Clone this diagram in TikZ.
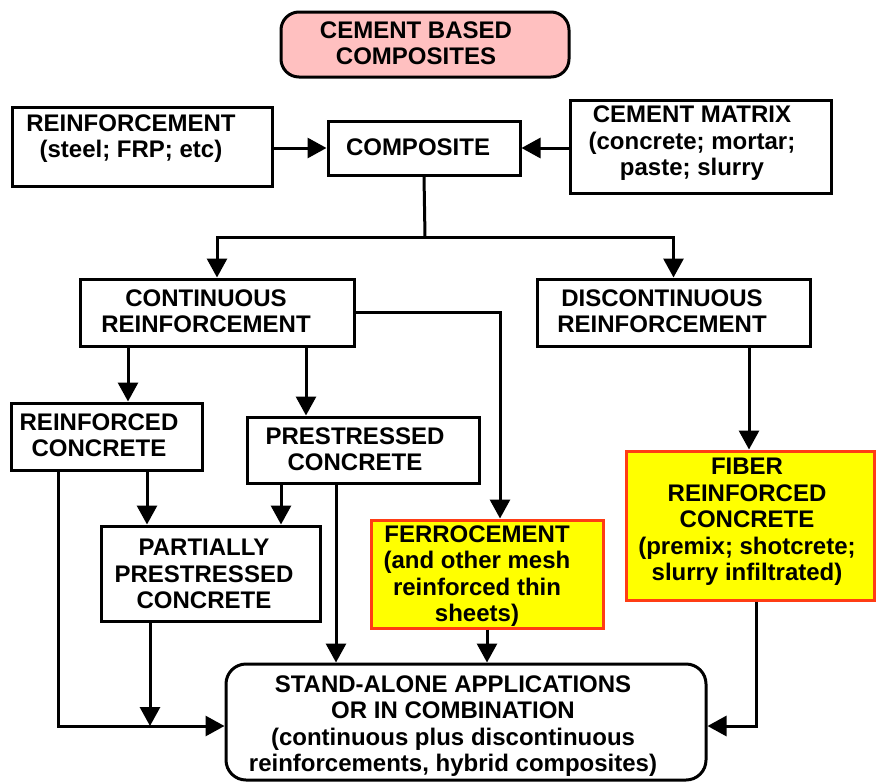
\documentclass[tikz,border=0pt]{standalone}
\usepackage{fontspec}
\setmainfont{Liberation Sans}
\usetikzlibrary{arrows.meta}
\definecolor{titlepink}{RGB}{255,192,192}
\definecolor{hlyellow}{RGB}{255,255,0}
\definecolor{hlred}{RGB}{255,60,20}
\tikzset{
  boxnode/.style={draw=black, line width=3pt, inner sep=0pt, minimum width=#1},
  lbl/.style={font=\bfseries\fontsize{24}{26.4}\selectfont, align=center, inner sep=0pt},
  conn/.style={line width=3pt},
  arr/.style={line width=3pt, -{Triangle[length=19pt,width=20pt]}},
  hlbox/.style={draw=hlred, fill=hlyellow, line width=3pt, inner sep=0pt},
}
\begin{document}
\begin{tikzpicture}[x=1pt,y=-1pt]
\useasboundingbox (0,0) rectangle (877,782);
% boxes
\node[draw=black, fill=titlepink, line width=3pt, rounded corners=18pt, minimum width=288pt, minimum height=65pt, inner sep=0pt] (title) at (425,44.5) {};
\node[boxnode=260pt, minimum height=79pt] (reinf) at (142,146.5) {};
\node[boxnode=192pt, minimum height=54pt] (comp) at (424,148) {};
\node[boxnode=261pt, minimum height=93pt] (matrix) at (701,146.5) {};
\node[boxnode=274pt, minimum height=67pt] (cont) at (217,312.5) {};
\node[boxnode=273pt, minimum height=67pt] (disc) at (673.5,312.5) {};
\node[boxnode=191pt, minimum height=67pt] (rc) at (106.5,436.5) {};
\node[boxnode=232pt, minimum height=66pt] (ps) at (363,450) {};
\node[boxnode=219pt, minimum height=95pt] (pp) at (210.5,573.5) {};
\node[hlbox, minimum width=232pt, minimum height=108pt] (ferro) at (487,574) {};
\node[hlbox, minimum width=248pt, minimum height=149pt] (fiber) at (750,525.5) {};
\node[draw=black, line width=3pt, rounded corners=20pt, minimum width=480pt, minimum height=116pt, inner sep=0pt] (sa) at (466,722) {};
% texts
\node[lbl] (ttitle) at (416,43.5) {CEMENT BASED\\COMPOSITES};
\node[lbl] (treinf) at (131,138.5) {REINFORCEMENT\\(steel; FRP; etc)};
\node[lbl] (tcomp) at (418,147) {COMPOSITE};
\node[lbl] (tmatrix) at (692,143.5) {CEMENT MATRIX\\(concrete; mortar;\\paste; slurry};
\node[lbl] (tcont) at (206,311) {CONTINUOUS\\REINFORCEMENT};
\node[lbl] (tdisc) at (662,311) {DISCONTINUOUS\\REINFORCEMENT};
\node[lbl] (trc) at (99,435) {REINFORCED\\CONCRETE};
\node[lbl] (tps) at (355,449) {PRESTRESSED\\CONCRETE};
\node[lbl] (tpp) at (204,574) {PARTIALLY\\PRESTRESSED\\CONCRETE};
\node[lbl] (tferro) at (477,576) {FERROCEMENT\\(and other mesh\\reinforced thin\\sheets)};
\node[lbl] (tfiber) at (747,522) {FIBER\\REINFORCED\\CONCRETE\\(premix; shotcrete;\\slurry infiltrated)};
\node[lbl] (tsa) at (453,726) {STAND-ALONE APPLICATIONS\\OR IN COMBINATION\\(continuous plus discontinuous\\reinforcements, hybrid composites)};
% helper coordinates
\coordinate (split) at (425,237);
\coordinate (xa) at (128,0);
\coordinate (xb) at (306,0);
\coordinate (xc) at (500,0);
\coordinate (xd) at (749,0);
\coordinate (j1) at (58,726);
\coordinate (xe) at (147,0);
\coordinate (xf) at (281,0);
\coordinate (xg) at (336,0);
\coordinate (j2) at (150,726);
\coordinate (j3) at (756,726);
% connectors
\draw[arr] (comp.west -| reinf.east) -- (comp.west);
\draw[arr] (comp.east -| matrix.west) -- (comp.east);
\draw[conn] (comp.south) -- (split);
\draw[arr] (split) -| (cont.north);
\draw[arr] (split) -| (disc.north);
\draw[arr] (cont.south -| xa) -- (rc.north -| xa);
\draw[arr] (cont.south -| xb) -- (ps.north -| xb);
\draw[arr] (cont.east) -| (ferro.north -| xc);
\draw[arr] (disc.south -| xd) -- (fiber.north -| xd);
\draw[arr] (rc.south -| j1) -- (j1) -- (sa.west |- j1);
\draw[arr] (rc.south -| xe) -- (pp.north -| xe);
\draw[arr] (ps.south -| xf) -- (pp.north -| xf);
\draw[arr] (ps.south -| xg) -- (sa.north -| xg);
\draw[arr] (pp.south -| j2) -- (j2);
\draw[arr] (ferro.south) -- (sa.north -| ferro.south);
\draw[arr] (fiber.south -| j3) -- (j3) -- (sa.east |- j3);
\end{tikzpicture}
\end{document}
